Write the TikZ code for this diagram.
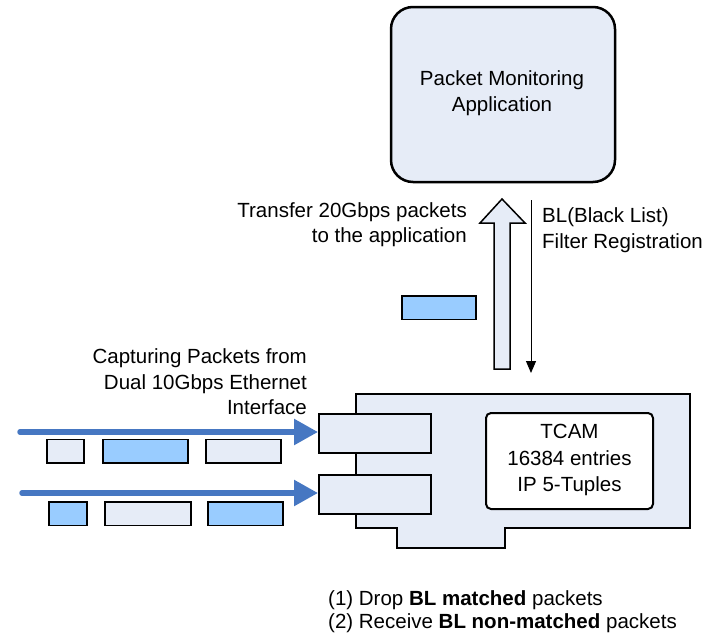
\documentclass[tikz,border=0pt]{standalone}
\usepackage{fontspec}
\setmainfont{Liberation Sans}
\usetikzlibrary{arrows.meta}
\definecolor{lightfill}{HTML}{E6ECF7}
\definecolor{pktblue}{HTML}{99CCFF}
\definecolor{flowblue}{HTML}{4677C2}
\tikzset{
  txt/.style={font=\fontsize{20.5}{25.5}\selectfont, inner sep=0pt, align=#1},
  pkt/.style={draw=black, line width=1.5pt, inner sep=0pt, minimum height=23.5pt},
  port/.style={draw=black, line width=2pt, fill=lightfill, inner sep=0pt, minimum width=112pt, minimum height=39pt},
  flow/.style={draw=flowblue, line width=5.5pt, line cap=round, -{Triangle[length=24pt,width=25pt]}},
}
\begin{document}
\begin{tikzpicture}[x=1pt,y=-1pt]
\useasboundingbox (0,0) rectangle (714,637);
% application box
\node[draw=black, line width=2.5pt, fill=lightfill, rounded corners=22pt, minimum width=224pt, minimum height=175pt, inner sep=0pt] (app) at (503,94.5) {};
\node[txt=center] (apptxt) at (502,93) {Packet Monitoring\\Application};
% card
\draw[line width=2.5pt, fill=lightfill, line join=miter] (356,394) -- (690,394) -- (690,528) -- (505,528) -- (505,548) -- (397,548) -- (397,528) -- (356,528) -- cycle;
\coordinate (cardtop) at (502,394);
\node[port] (port1) at (375,433.5) {};
\node[port] (port2) at (375,494) {};
\node[draw=black, line width=2pt, fill=white, rounded corners=5pt, minimum width=167pt, minimum height=96pt, inner sep=0pt] (tcam) at (569.5,461) {};
\node[txt=center, font=\fontsize{20.5}{26.5}\selectfont] (tcamtxt) at (569.5,460) {TCAM\\16384 entries\\IP 5-Tuples};
% hollow up arrow
\coordinate (hbot) at (502,369);
\coordinate (htip) at (502,199);
\draw[line width=1.5pt, fill=lightfill, line join=miter] (494,369) -- (494,223) -- (480,223) -- (htip) -- (525,223) -- (510,223) -- (510,369) -- cycle;
% thin down arrow
\coordinate (ts) at (531,200);
\coordinate (te) at (531,373);
\draw[line width=1pt, -{Triangle[length=12pt,width=10pt]}] (ts) -- (te);
% labels
\node[txt=right, anchor=east] (transfer) at (467,224.5) {Transfer 20Gbps packets\\to the application};
\node[txt=left, anchor=west] (bl) at (542,230) {BL(Black List)\\Filter Registration};
% packet near arrow
\node[pkt, fill=pktblue, minimum width=74pt] (p0) at (439,307.5) {};
% capturing text
\node[txt=right, anchor=east] (cap) at (307,382) {Capturing Packets from\\Dual 10Gbps Ethernet\\Interface};
% flows
\coordinate (f1s) at (20,432);
\coordinate (f2s) at (22,493);
\draw[flow] (f1s) -- (port1.west |- f1s);
\draw[flow] (f2s) -- (port2.west |- f2s);
% packets row 1
\node[pkt, fill=lightfill, minimum width=37pt] (a1) at (65.5,451) {};
\node[pkt, fill=pktblue, minimum width=85pt] (a2) at (145.5,451) {};
\node[pkt, fill=lightfill, minimum width=75pt] (a3) at (243.5,451) {};
% packets row 2
\node[pkt, fill=pktblue, minimum width=38pt] (b1) at (68,513.5) {};
\node[pkt, fill=lightfill, minimum width=86pt] (b2) at (148,513.5) {};
\node[pkt, fill=pktblue, minimum width=75pt] (b3) at (245.5,513.5) {};
% bottom notes
\node[txt=left, anchor=west, font=\fontsize{20.5}{23.5}\selectfont] (notes) at (328,611.5) {(1) Drop \textbf{BL matched} packets\\(2) Receive \textbf{BL non-matched} packets};
\end{tikzpicture}
\end{document}
